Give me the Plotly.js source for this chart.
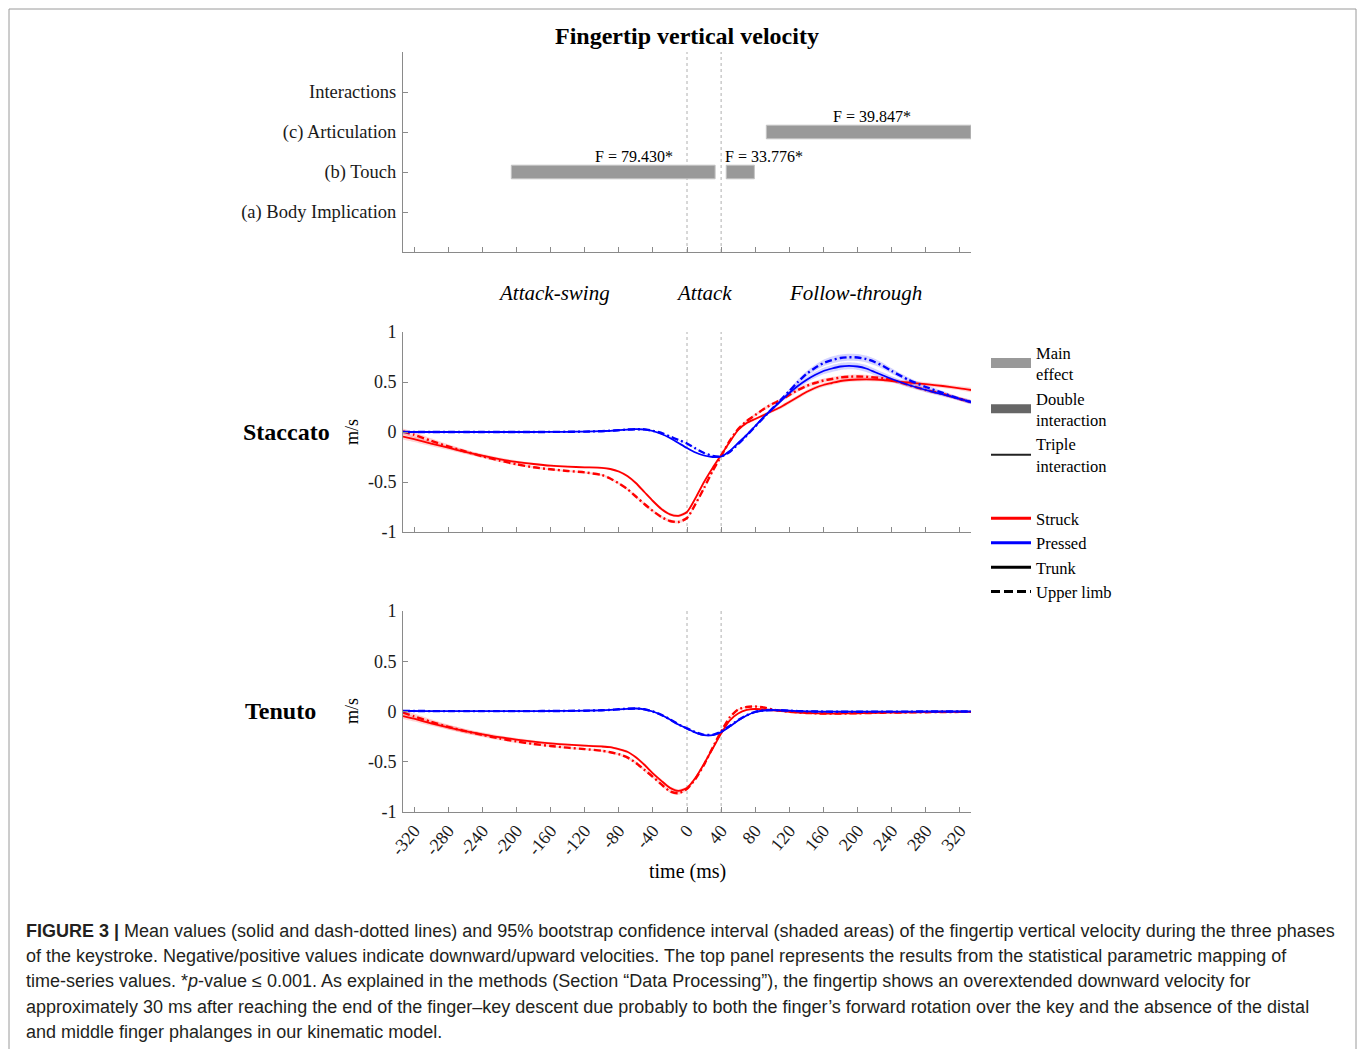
<!DOCTYPE html>
<html><head><meta charset="utf-8">
<script src="https://cdn.plot.ly/plotly-3.0.1.min.js"></script>
<style>html,body{margin:0;padding:0;background:#fff}#chart{width:1357px;height:1049px}</style>
</head><body><div id="chart"></div><script>
// ---------- DATA ----------
const time = [-333,-320,-300,-280,-260,-240,-220,-200,-180,-160,-140,-120,-100,
  -90,-80,-70,-60,-50,-40,-30,-20,-10,0,10,20,30,40,50,60,70,80,90,100,110,120,130,140,150,160,170,180,190,200,210,220,230,240,
  260,280,300,320,333];

const stacStruckTrunk = [-0.045,-0.072,-0.117,-0.157,-0.199,-0.236,-0.271,-0.299,-0.32,-0.337,-0.347,-0.353,-0.358,
  -0.37,-0.395,-0.44,-0.51,-0.60,-0.69,-0.77,-0.823,-0.838,-0.80,-0.66,-0.50,-0.36,-0.23,-0.10,0.02,0.09,0.13,0.17,0.21,0.25,0.30,0.35,0.40,0.44,0.47,0.49,0.51,0.52,0.525,0.527,0.525,0.52,0.51,
  0.495,0.478,0.46,0.437,0.42];
const stacStruckUpper = [0.005,-0.028,-0.088,-0.145,-0.195,-0.243,-0.285,-0.322,-0.353,-0.373,-0.39,-0.404,-0.43,
  -0.465,-0.514,-0.57,-0.645,-0.72,-0.79,-0.85,-0.89,-0.90,-0.86,-0.72,-0.56,-0.39,-0.24,-0.09,0.03,0.11,0.17,0.23,0.28,0.32,0.37,0.42,0.46,0.49,0.515,0.53,0.545,0.553,0.555,0.553,0.545,0.537,0.52,
  0.47,0.42,0.38,0.33,0.30];
const stacPressedTrunk = [0,0,0,0,0,0,0,0,0,0.001,0.002,0.004,0.008,
  0.012,0.018,0.024,0.028,0.025,0.01,-0.02,-0.06,-0.11,-0.16,-0.205,-0.235,-0.25,-0.245,-0.19,-0.11,-0.03,0.06,0.15,0.23,0.31,0.39,0.46,0.52,0.57,0.61,0.635,0.655,0.662,0.655,0.635,0.60,0.565,0.53,
  0.47,0.42,0.375,0.33,0.30];
const stacPressedUpper = [0,0,0,0,0,0,0,0,0,0.001,0.002,0.004,0.008,
  0.012,0.018,0.024,0.028,0.026,0.012,-0.01,-0.045,-0.08,-0.115,-0.165,-0.21,-0.24,-0.245,-0.2,-0.12,-0.035,0.055,0.145,0.235,0.32,0.41,0.50,0.58,0.64,0.69,0.72,0.74,0.748,0.745,0.73,0.70,0.66,0.61,
  0.52,0.45,0.39,0.33,0.30];

const tenStruckTrunk = [-0.045,-0.072,-0.117,-0.157,-0.196,-0.227,-0.256,-0.279,-0.30,-0.317,-0.33,-0.34,-0.348,
  -0.355,-0.375,-0.40,-0.455,-0.53,-0.615,-0.69,-0.76,-0.79,-0.76,-0.66,-0.52,-0.37,-0.22,-0.09,-0.02,0.015,0.025,0.02,0.012,0.005,-0.003,-0.01,-0.015,-0.018,-0.02,-0.021,-0.02,-0.019,-0.018,-0.016,-0.014,-0.012,-0.011,
  -0.009,-0.007,-0.005,-0.004,-0.004];
const tenStruckUpper = [-0.01,-0.048,-0.103,-0.153,-0.196,-0.233,-0.268,-0.298,-0.323,-0.343,-0.36,-0.374,-0.39,
  -0.405,-0.425,-0.457,-0.51,-0.58,-0.65,-0.725,-0.795,-0.813,-0.77,-0.67,-0.53,-0.36,-0.2,-0.06,0.02,0.045,0.05,0.04,0.02,0.008,-0.003,-0.01,-0.015,-0.018,-0.02,-0.021,-0.02,-0.019,-0.018,-0.016,-0.014,-0.012,-0.011,
  -0.009,-0.007,-0.005,-0.004,-0.004];
const tenPressedTrunk = [0.005,0.005,0.004,0.004,0.004,0.004,0.004,0.004,0.004,0.005,0.006,0.008,0.012,
  0.016,0.022,0.027,0.03,0.022,0.0,-0.035,-0.08,-0.13,-0.17,-0.21,-0.235,-0.235,-0.205,-0.15,-0.09,-0.04,-0.005,0.01,0.015,0.012,0.008,0.004,0.002,0.0,-0.001,-0.002,-0.002,-0.002,-0.002,-0.002,-0.001,-0.001,-0.001,
  -0.001,0,0,0,0];
const tenPressedUpper = [0.005,0.005,0.004,0.004,0.004,0.004,0.004,0.004,0.004,0.005,0.006,0.008,0.012,
  0.016,0.022,0.027,0.03,0.022,0.0,-0.033,-0.078,-0.128,-0.168,-0.207,-0.232,-0.232,-0.2,-0.145,-0.085,-0.037,-0.003,0.011,0.015,0.012,0.008,0.004,0.002,0.0,-0.001,-0.002,-0.002,-0.002,-0.002,-0.002,-0.001,-0.001,-0.001,
  -0.001,0,0,0,0];

// 95% bootstrap CI half-widths
const stacStruckCI = [0.03,0.028,0.025,0.022,0.02,0.018,0.016,0.014,0.012,0.011,0.01,0.01,0.01,
  0.011,0.012,0.013,0.014,0.015,0.015,0.015,0.015,0.015,0.014,0.012,0.01,0.01,0.01,0.01,0.012,0.014,0.015,0.016,0.017,0.018,0.019,0.02,0.02,0.02,0.02,0.02,0.02,0.02,0.02,0.02,0.02,0.02,0.02,
  0.02,0.02,0.02,0.02,0.02];
const stacPressedCI = [0.004,0.004,0.004,0.004,0.004,0.004,0.004,0.004,0.004,0.004,0.004,0.004,0.004,
  0.004,0.004,0.004,0.004,0.004,0.005,0.005,0.005,0.005,0.006,0.006,0.007,0.007,0.007,0.007,0.008,0.009,0.01,0.012,0.014,0.017,0.02,0.024,0.028,0.031,0.033,0.035,0.035,0.035,0.035,0.034,0.032,0.03,0.028,
  0.025,0.022,0.02,0.018,0.016];
const tenStruckCI = [0.03,0.028,0.026,0.024,0.022,0.02,0.018,0.016,0.014,0.013,0.012,0.012,0.012,
  0.012,0.012,0.013,0.014,0.015,0.015,0.015,0.016,0.016,0.015,0.013,0.011,0.01,0.009,0.008,0.007,0.006,0.006,0.006,0.005,0.005,0.005,0.005,0.005,0.005,0.005,0.005,0.005,0.005,0.005,0.005,0.005,0.005,0.005,
  0.005,0.005,0.005,0.005,0.005];
const tenPressedCI = [0.004,0.004,0.004,0.004,0.004,0.004,0.004,0.004,0.004,0.004,0.004,0.004,0.004,
  0.004,0.004,0.004,0.004,0.004,0.004,0.004,0.004,0.004,0.004,0.004,0.004,0.004,0.004,0.004,0.004,0.004,0.004,0.004,0.004,0.004,0.004,0.004,0.004,0.004,0.004,0.004,0.004,0.004,0.004,0.004,0.004,0.004,0.004,
  0.004,0.004,0.004,0.004,0.004];

// SPM effects (top panel)
const effectCategories = ['(a) Body Implication','(b) Touch','(c) Articulation','Interactions'];
const effectRows = ['(b) Touch','(b) Touch','(c) Articulation'];
const effectStart = [-206, 46, 93];
const effectEnd = [33, 79, 333];
const effectLabels = ['F = 79.430*','F = 33.776*','F = 39.847*'];
const effectLabelX = [-62, 90, 217];

const xTickVals = [-320,-280,-240,-200,-160,-120,-80,-40,0,40,80,120,160,200,240,280,320];
const yTickVals = [-1,-0.5,0,0.5,1];
const yTickText = ['-1','-0.5','0','0.5','1'];
const phaseBounds = [0, 40];
const phaseNames = ['Attack-swing','Attack','Follow-through'];
const phaseCenters = [-156, 20, 197];

const captionLines = [
 '<b>FIGURE 3 |</b> Mean values (solid and dash-dotted lines) and 95% bootstrap confidence interval (shaded areas) of the fingertip vertical velocity during the three phases',
 'of the keystroke. Negative/positive values indicate downward/upward velocities. The top panel represents the results from the statistical parametric mapping of',
 'time-series values. *<i>p</i>-value ≤ 0.001. As explained in the methods (Section “Data Processing”), the fingertip shows an overextended downward velocity for',
 'approximately 30 ms after reaching the end of the finger–key descent due probably to both the finger’s forward rotation over the key and the absence of the distal',
 'and middle finger phalanges in our kinematic model.'
];

// ---------- LAYOUT HELPERS ----------
const W = 1357, H = 1049;
const SERIF = '"Liberation Serif", "Times New Roman", serif';
const SANS = '"Liberation Sans", Arial, sans-serif';
const px = p => p / W;
const py = p => 1 - p / H;
const RED = '#ff0000', BLUE = '#0000ff';
const DASHDOT = '7px,3px,2px,3px';

const traces = [];
traces.push({
  type:'bar', orientation:'h', y:effectRows, x:effectEnd.map((e,i)=>e-effectStart[i]), base:effectStart,
  width:0.34, marker:{color:'#999999', line:{color:'#c4c4c4', width:1}},
  xaxis:'x', yaxis:'y', showlegend:false, hoverinfo:'skip'
});

function band(mean, hw, color, xa, ya){
  const up = mean.map((v,i)=>v+hw[i]);
  const lo = mean.map((v,i)=>v-hw[i]);
  return {type:'scatter', mode:'lines', x:time.concat(time.slice().reverse()), y:up.concat(lo.slice().reverse()),
    fill:'toself', fillcolor:color, line:{width:0, shape:'spline', smoothing:0.6}, xaxis:xa, yaxis:ya, showlegend:false, hoverinfo:'skip'};
}
function line(y, color, dash, xa, ya, w){
  return {type:'scatter', mode:'lines', x:time, y:y, line:{color:color, width:w, dash:dash, shape:'spline', smoothing:0.6},
    xaxis:xa, yaxis:ya, showlegend:false, hoverinfo:'skip'};
}
const RB = 'rgba(255,0,0,0.17)', BB = 'rgba(0,0,255,0.17)';
// Staccato
traces.push(band(stacStruckTrunk, stacStruckCI, RB, 'x2','y2'));
traces.push(band(stacStruckUpper, stacStruckCI, RB, 'x2','y2'));
traces.push(band(stacPressedTrunk, stacPressedCI, BB, 'x2','y2'));
traces.push(band(stacPressedUpper, stacPressedCI, BB, 'x2','y2'));
traces.push(line(stacStruckTrunk, RED, 'solid', 'x2','y2', 1.8));
traces.push(line(stacStruckUpper, RED, DASHDOT, 'x2','y2', 2.4));
traces.push(line(stacPressedTrunk, BLUE, 'solid', 'x2','y2', 1.8));
traces.push(line(stacPressedUpper, BLUE, DASHDOT, 'x2','y2', 2.4));
// Tenuto
traces.push(band(tenStruckTrunk, tenStruckCI, RB, 'x3','y3'));
traces.push(band(tenStruckUpper, tenStruckCI, RB, 'x3','y3'));
traces.push(band(tenPressedTrunk, tenPressedCI, BB, 'x3','y3'));
traces.push(band(tenPressedUpper, tenPressedCI, BB, 'x3','y3'));
traces.push(line(tenStruckTrunk, RED, 'solid', 'x3','y3', 1.8));
traces.push(line(tenStruckUpper, RED, DASHDOT, 'x3','y3', 2.4));
traces.push(line(tenPressedTrunk, BLUE, 'solid', 'x3','y3', 1.8));
traces.push(line(tenPressedUpper, BLUE, DASHDOT, 'x3','y3', 2.4));

// legend entries
function leg(name, color, width, dash, lg){
  return {type:'scatter', mode:'lines', x:[null], y:[null], name:name, line:{color:color, width:width, dash:dash},
    xaxis:'x2', yaxis:'y2', showlegend:true, legend:lg, hoverinfo:'skip'};
}
traces.push(leg('Main<br>effect', '#999999', 14, 'solid', 'legend'));
traces.push(leg('Double<br>interaction', '#666666', 9, 'solid', 'legend'));
traces.push(leg('Triple<br>interaction', '#222222', 2, 'solid', 'legend'));
traces.push(leg('Struck', RED, 3, 'solid', 'legend2'));
traces.push(leg('Pressed', BLUE, 3, 'solid', 'legend2'));
traces.push(leg('Trunk', '#000000', 3, 'solid', 'legend2'));
traces.push(leg('Upper limb', '#000000', 3, '9px,4px', 'legend2'));

const XD = [px(403), px(971)];
const axisBase = {showline:true, linecolor:'#8a8a8a', linewidth:1, ticks:'inside', ticklen:5, tickcolor:'#8a8a8a',
  zeroline:false, showgrid:false, automargin:false, fixedrange:true,
  tickfont:{family:SERIF, size:18, color:'#1a1a1a'}};
function xax(anchor, labels){
  return Object.assign({}, axisBase, {domain:XD, range:[-333,333], anchor:anchor, tickmode:'array', tickvals:xTickVals,
    ticktext:xTickVals.map(String), showticklabels:labels, tickangle:-50});
}
function yax(anchor, dom){
  return Object.assign({}, axisBase, {domain:dom, range:[-1,1], anchor:anchor, tickmode:'array', tickvals:yTickVals, ticktext:yTickText, ticklabelstandoff:2});
}

const shapes = [];
['x','x2','x3'].forEach((xa,k)=>{
  const ya = ['y','y2','y3'][k];
  phaseBounds.forEach(b=>shapes.push({type:'line', xref:xa, yref:ya+' domain', x0:b, x1:b, y0:0, y1:1,
    line:{color:'#b0b0b0', width:1, dash:'dot'}, layer:'below'}));
});
shapes.push({type:'rect', xref:'paper', yref:'paper', x0:px(9), x1:px(1356), y0:-0.02, y1:py(9), line:{color:'#9a9a9a', width:1}});

const annotations = [];
annotations.push({xref:'paper', yref:'paper', x:px(687), y:py(36), text:'<b>Fingertip vertical velocity</b>', showarrow:false,
  font:{family:SERIF, size:24, color:'#000'}, xanchor:'center', yanchor:'middle'});
effectLabels.forEach((t,i)=>annotations.push({xref:'x', yref:'y', x:effectLabelX[i], y:effectRows[i], text:t, showarrow:false,
  yshift:16, font:{family:SERIF, size:16, color:'#000'}, xanchor:'center', yanchor:'middle'}));
phaseNames.forEach((t,i)=>annotations.push({xref:'x2', yref:'paper', x:phaseCenters[i], y:py(293), text:'<i>'+t+'</i>', showarrow:false,
  font:{family:SERIF, size:21, color:'#000'}, xanchor:'center', yanchor:'middle'}));
[['Staccato',286,432],['Tenuto',280,711]].forEach(r=>{
  annotations.push({xref:'paper', yref:'paper', x:px(r[1]), y:py(r[2]), text:'<b>'+r[0]+'</b>', showarrow:false,
    font:{family:SERIF, size:24, color:'#000'}, xanchor:'center', yanchor:'middle'});
  annotations.push({xref:'paper', yref:'paper', x:px(352), y:py(r[2]), text:'m/s', textangle:-90, showarrow:false,
    font:{family:SERIF, size:18, color:'#000'}, xanchor:'center', yanchor:'middle'});
});
annotations.push({xref:'paper', yref:'paper', x:px(687), y:py(871), text:'time (ms)', showarrow:false,
  font:{family:SERIF, size:20, color:'#000'}, xanchor:'center', yanchor:'middle'});
const capY = [931, 956, 981, 1007, 1032];
captionLines.forEach((t,i)=>annotations.push({xref:'paper', yref:'paper', x:px(24), y:py(capY[i]), text:t, showarrow:false,
  font:{family:SANS, size:18, color:'#231f20'}, xanchor:'left', yanchor:'middle', align:'left'}));

const layout = {
  width:W, height:H, margin:{l:0, r:0, t:0, b:0}, paper_bgcolor:'#fff', plot_bgcolor:'rgba(0,0,0,0)',
  barmode:'overlay', showlegend:true,
  xaxis: xax('y', false),
  xaxis2: xax('y2', false),
  xaxis3: xax('y3', true),
  yaxis: Object.assign({}, axisBase, {domain:[py(252), py(52)], anchor:'x', type:'category', categoryorder:'array',
    categoryarray:effectCategories, range:[-1,4], ticklabelstandoff:2, tickfont:{family:SERIF, size:18.5, color:'#1a1a1a'}}),
  yaxis2: yax('x2', [py(532), py(332)]),
  yaxis3: yax('x3', [py(812), py(611)]),
  legend:{x:px(986), xanchor:'left', y:py(335), yanchor:'top', bgcolor:'rgba(0,0,0,0)', font:{family:SERIF, size:16.5, color:'#000'},
    itemwidth:40, tracegroupgap:0, itemclick:false, itemdoubleclick:false},
  legend2:{x:px(986), xanchor:'left', y:py(501), yanchor:'top', bgcolor:'rgba(0,0,0,0)', font:{family:SERIF, size:16.5, color:'#000'},
    itemwidth:40, tracegroupgap:0, itemclick:false, itemdoubleclick:false},
  shapes:shapes, annotations:annotations
};
Plotly.newPlot('chart', traces, layout, {displayModeBar:false, staticPlot:true});
</script></body></html>
